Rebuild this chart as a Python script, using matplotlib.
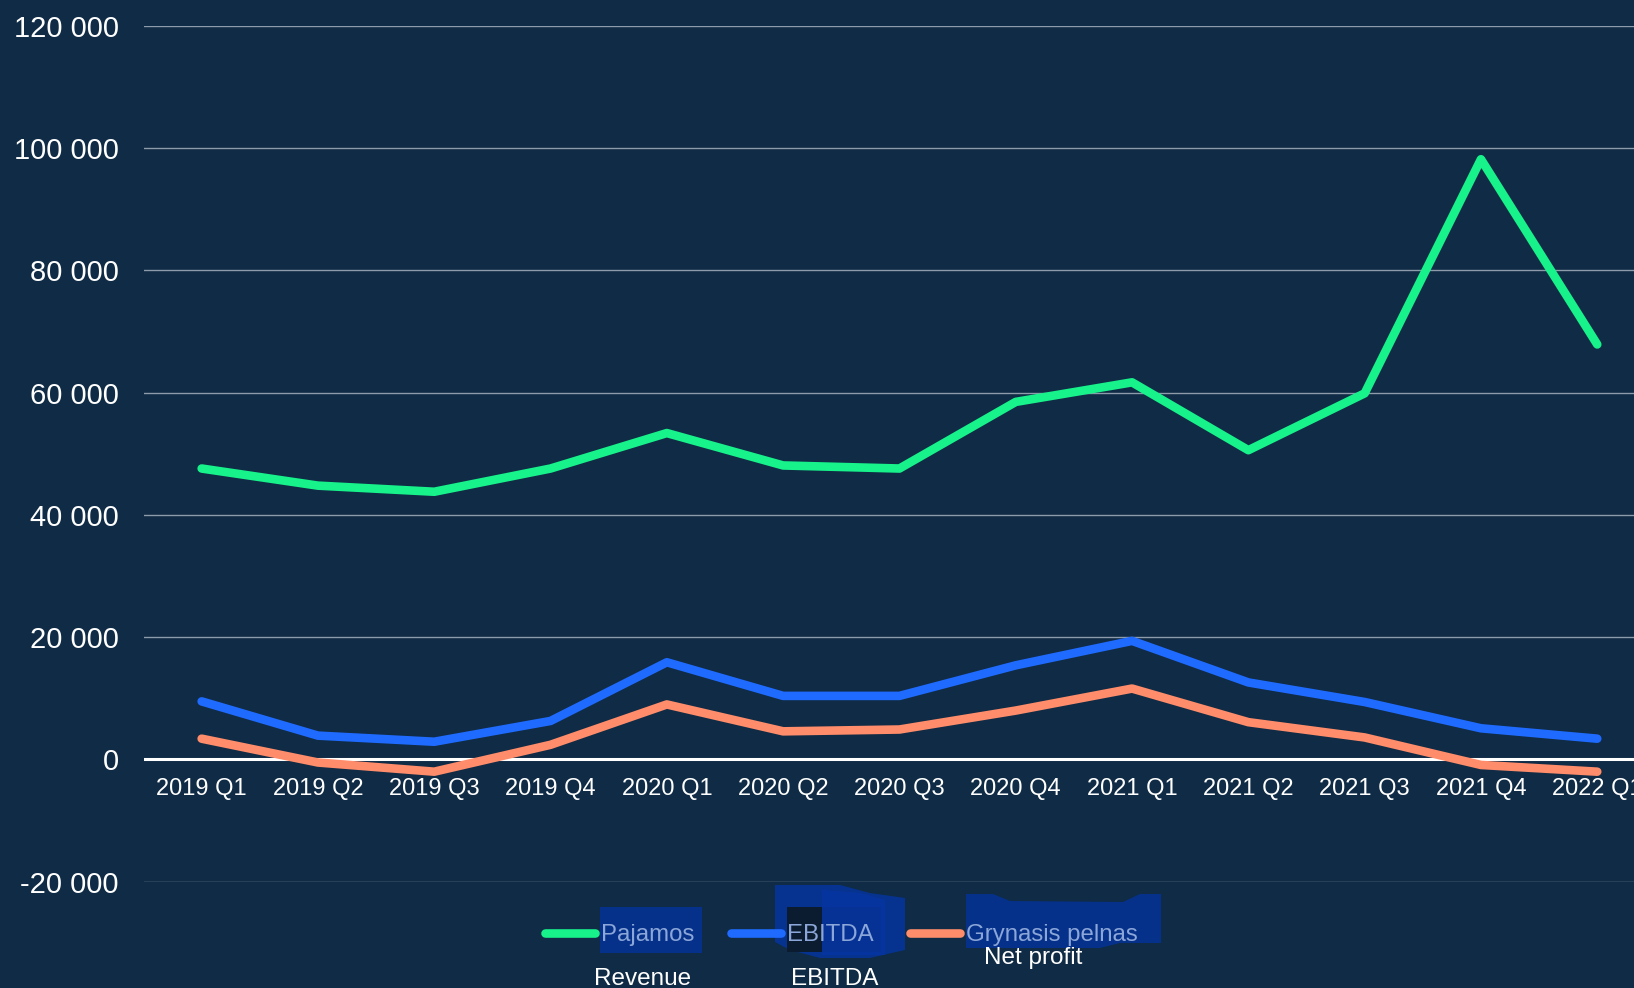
import matplotlib
matplotlib.use("Agg")
import matplotlib.pyplot as plt
from matplotlib.patches import Polygon
from matplotlib.ticker import FuncFormatter

plt.rcParams['font.family'] = ['Liberation Sans', 'DejaVu Sans']

quarters = ["2019 Q1", "2019 Q2", "2019 Q3", "2019 Q4",
            "2020 Q1", "2020 Q2", "2020 Q3", "2020 Q4",
            "2021 Q1", "2021 Q2", "2021 Q3", "2021 Q4", "2022 Q1"]
revenue = [47600, 44800, 43800, 47600, 53400, 48100, 47600, 58500,
           61700, 50600, 59900, 98200, 67900]
ebitda = [9500, 3900, 2900, 6300, 15900, 10400, 10400, 15400,
          19400, 12600, 9400, 5100, 3400]
net_profit = [3400, -500, -2000, 2400, 9000, 4600, 4900, 8000,
              11600, 6100, 3600, -900, -2000]
series_names = ["Pajamos", "EBITDA", "Grynasis pelnas"]
series_en = ["Revenue", "EBITDA", "Net profit"]
colors = ["#17f28b", "#1f6bff", "#ff8c6a"]
yticks = [-20000, 0, 20000, 40000, 60000, 80000, 100000, 120000]

W, H = 1634, 988
BG = "#0f2b45"
fig = plt.figure(figsize=(W / 100, H / 100), dpi=100, facecolor=BG)

left, right_px = 143.5, 143.5 + 13 * 116.3
top, bottom = 26, 881.7
ax = fig.add_axes([left / W, 1 - bottom / H, (right_px - left) / W, (bottom - top) / H])
ax.set_facecolor(BG)

x = list(range(len(quarters)))
lines = []
for vals, c, name in zip([revenue, ebitda, net_profit], colors, series_names):
    ln, = ax.plot(x, vals, color=c, lw=6.2, solid_capstyle='round',
                  solid_joinstyle='round', label=name, zorder=3)
    lines.append(ln)

ax.set_xlim(-0.5, len(quarters) - 0.5)
ax.set_ylim(-20000, 120000)
ax.set_yticks(yticks)
ax.yaxis.set_major_formatter(FuncFormatter(lambda v, p: f"{int(v):,}".replace(",", " ")))
for t in yticks:
    if t == 0:
        ax.axhline(0, color="white", lw=2.2, zorder=2)
    else:
        ax.axhline(t, color="#8d9bab", lw=1.0, zorder=1)

ax.set_xticks(x)
ax.set_xticklabels(quarters)
ax.spines['bottom'].set_position(('data', 0))
for s in ax.spines.values():
    s.set_visible(False)
ax.tick_params(axis='x', length=0, pad=13, labelsize=17, colors='white')
ax.tick_params(axis='y', length=0, pad=18, labelsize=21, colors='white')

# Decorative overlay patches in legend area (pixel coordinates)
def fpoly(pts, color, alpha=1.0):
    fig.patches.append(Polygon([(px, H - py) for px, py in pts], closed=True,
                               transform=None, facecolor=color, edgecolor='none',
                               alpha=alpha, zorder=1))

fpoly([(600, 907), (702, 907), (702, 953), (600, 953)], "#06318a")
fpoly([(775, 885), (840, 885), (870, 893), (905, 898), (905, 950), (870, 958),
       (820, 958), (790, 950), (775, 942)], "#06338f")
fpoly([(787, 907), (881, 907), (881, 952), (787, 952)], "#0b1b30")
fpoly([(822, 890), (860, 893), (885, 900), (885, 955), (822, 955)], "#0635a0", alpha=0.92)
fpoly([(966, 894), (993, 894), (1010, 901), (1123, 902), (1140, 894), (1161, 894),
       (1161, 943), (1120, 943), (1100, 948), (966, 948)], "#06318a")

leg = fig.legend(handles=lines, labels=series_names, ncol=3, loc='center',
                 bbox_to_anchor=(841.5 / W, 1 - 935 / H), frameon=False,
                 fontsize=17.3, handlelength=2.05, handletextpad=0.25,
                 columnspacing=1.55, labelcolor="#8ba6d8")
leg.set_zorder(5)

fig.text(643 / W, 1 - 979 / H, series_en[0], color="white", fontsize=17.5,
         ha='center', va='center')
fig.text(835 / W, 1 - 979 / H, series_en[1], color="white", fontsize=17.5,
         ha='center', va='center')
fig.text(1033 / W, 1 - 958 / H, series_en[2], color="white", fontsize=17.5,
         ha='center', va='center')

fig.savefig("out.png", dpi=100, facecolor=BG)
